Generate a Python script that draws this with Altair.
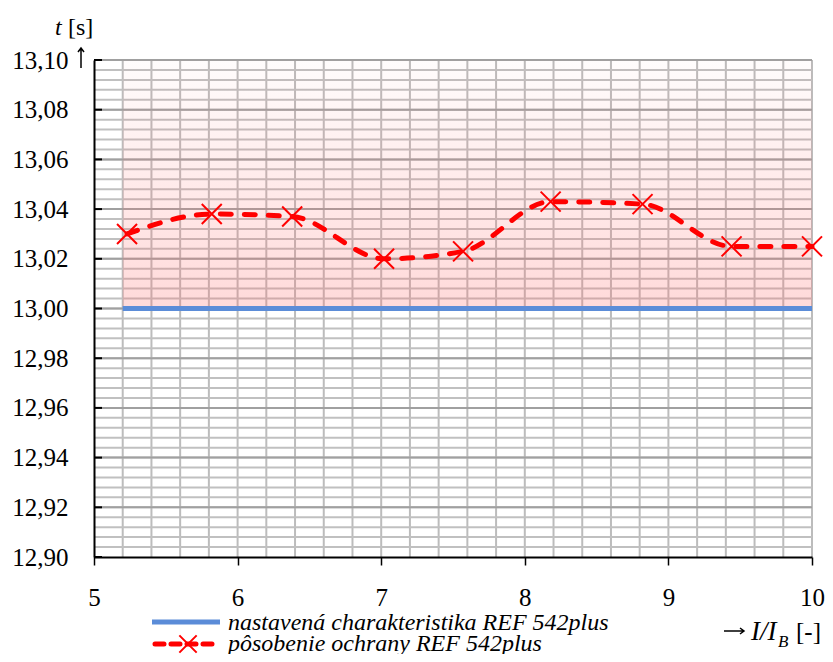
import altair as alt
import pandas as pd

FONT = "Liberation Serif"

# measured points (pôsobenie ochrany REF 542plus)
x_meas = [5.23, 5.82, 6.38, 7.02, 7.57, 8.18, 8.82, 9.44, 10.0]
t_meas = [13.030, 13.038, 13.037, 13.020, 13.023, 13.043, 13.042, 13.025, 13.025]

# set characteristic (nastavená charakteristika REF 542plus)
x_set = [5.2, 10.0]
t_set = [13.0, 13.0]

# shaded tolerance band
band_x = [5.2, 10.0]
band_t = [13.0, 13.1]

# axes ticks / grid
x_ticks = [5, 6, 7, 8, 9, 10]
y_ticks = [round(12.90 + 0.02 * i, 2) for i in range(11)]
x_grid = [round(5.2 + 0.2 * i, 1) for i in range(25)]
y_grid_minor = [round(12.90 + 0.004 * i, 3) for i in range(1, 51)]
y_grid_major = [round(12.90 + 0.02 * i, 2) for i in range(1, 11)]

W, H = 718, 497
xs = alt.Scale(domain=[5, 10], nice=False, zero=False)
ys = alt.Scale(domain=[12.9, 13.1], nice=False, zero=False)

x_axis = alt.Axis(values=x_ticks, grid=False, domainColor="black", domainWidth=2,
                  tickColor="black", tickSize=8, tickWidth=1.5, labelFont=FONT,
                  labelFontSize=25, labelPadding=20, labelColor="black", title=None,
                  labelFlush=False, zindex=1)
y_axis = alt.Axis(values=y_ticks, grid=False, format=".2f",
                  labelExpr="replace(datum.label, '.', ',')", ticks=False,
                  domainColor="black", domainWidth=2, labelFont=FONT, labelFontSize=25,
                  labelPadding=26, labelColor="black", title=None, zindex=1)


def X(field):
    return alt.X(field, type="quantitative", scale=xs, axis=x_axis)


def Y(field):
    return alt.Y(field, type="quantitative", scale=ys, axis=y_axis)


vgrid = alt.Chart(pd.DataFrame({"x": x_grid})).mark_rule(
    color="#bcbcbc", strokeWidth=2).encode(x=X("x"))
hgrid_minor = alt.Chart(pd.DataFrame({"t": y_grid_minor})).mark_rule(
    color="#c0c0c0", strokeWidth=2).encode(y=Y("t"))
hgrid_major = alt.Chart(pd.DataFrame({"t": y_grid_major})).mark_rule(
    color="#a0a0a0", strokeWidth=2).encode(y=Y("t"))

band = alt.Chart(pd.DataFrame({"x0": [band_x[0]], "x1": [band_x[1]],
                               "t0": [band_t[0]], "t1": [band_t[1]]})).mark_rect(
    fill=alt.LinearGradient(
        gradient="linear",
        stops=[alt.GradientStop(color="rgba(255,110,110,0.02)", offset=0),
               alt.GradientStop(color="rgba(255,110,110,0.13)", offset=0.45),
               alt.GradientStop(color="rgba(255,110,110,0.26)", offset=1)],
        x1=0, x2=0, y1=0, y2=1)
).encode(x=X("x0"), x2="x1", y=Y("t1"), y2="t0")

inner_ticks = alt.Chart(pd.DataFrame({"t": y_ticks})).mark_rule(
    color="black", strokeWidth=2).encode(y=Y("t"), x=alt.value(0), x2=alt.value(8))

set_line = alt.Chart(pd.DataFrame({"x": x_set, "t": t_set})).mark_line(
    color="#5b8cd8", strokeWidth=5).encode(x=X("x"), y=Y("t"))

meas = pd.DataFrame({"x": x_meas, "t": t_meas})
meas_line = alt.Chart(meas).mark_line(
    color="#ff0000", strokeWidth=5, strokeDash=[11, 13], strokeCap="round",
    interpolate="monotone").encode(x=X("x"), y=Y("t"))
XPATH = "M-1,-1L1,1M-1,1L1,-1"
meas_pts = alt.Chart(meas).mark_point(
    shape=XPATH, size=400, color="#ff0000", strokeWidth=2, filled=False, opacity=1
).encode(x=X("x"), y=Y("t"))


def label(txt, x, y, size=24, italic=False, align="left", baseline="alphabetic"):
    return alt.Chart(alt.Data(values=[{}])).mark_text(
        text=txt, font=FONT, fontSize=size, fontStyle="italic" if italic else "normal",
        align=align, baseline=baseline, color="black"
    ).encode(x=alt.value(x), y=alt.value(y))


def arrow(path, x, y, size):
    return alt.Chart(alt.Data(values=[{}])).mark_point(
        shape=path, size=size, color="black", strokeWidth=1.5, filled=False, opacity=1
    ).encode(x=alt.value(x), y=alt.value(y))


UP = "M0,-1L0,1M-0.3,-0.6L0,-1L0.3,-0.6"
RIGHT = "M-1,0L1,0M0.6,-0.3L1,0L0.6,0.3"

texts = [
    label("t", -39, -25, italic=True),
    label("[s]", -26, -25),
    label("I/I", 657, 580, size=27, italic=True),
    label("B", 684, 587, size=17, italic=True),
    label("[-]", 702, 580, size=25),
    label("nastavená charakteristika REF 542plus", 134, 570, italic=True),
    label("pôsobenie ochrany REF 542plus", 134, 591, italic=True),
]

arrows = [arrow(UP, -13, -2, 400), arrow(RIGHT, 640, 571, 400)]

leg_blue = alt.Chart(alt.Data(values=[{}])).mark_rule(
    color="#5b8cd8", strokeWidth=5).encode(
    x=alt.value(58), x2=alt.value(126), y=alt.value(562))
leg_red = alt.Chart(alt.Data(values=[{}])).mark_rule(
    color="#ff0000", strokeWidth=5, strokeDash=[9, 7], strokeCap="round").encode(
    x=alt.value(61), x2=alt.value(125), y=alt.value(584))
leg_x = alt.Chart(alt.Data(values=[{}])).mark_point(
    shape=XPATH, size=300, color="#ff0000", strokeWidth=2, filled=False, opacity=1).encode(
    x=alt.value(94), y=alt.value(584))

chart = alt.layer(
    vgrid, hgrid_minor, hgrid_major, band, inner_ticks, set_line, meas_line, meas_pts,
    leg_blue, leg_red, leg_x, *texts, *arrows
).properties(
    width=W, height=H,
    autosize=alt.AutoSizeParams(type="none"),
    padding={"left": 86, "top": 52, "right": 13, "bottom": 97},
    background="white",
).configure_view(stroke=None)

chart.save("out.html", embed_options={"renderer": "svg", "actions": False})
